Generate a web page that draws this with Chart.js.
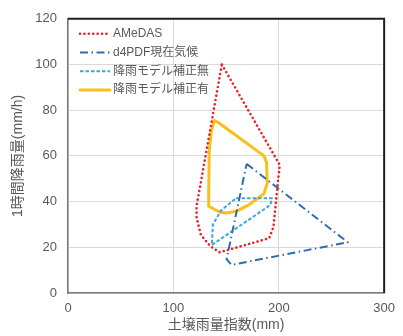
<!DOCTYPE html>
<html>
<head>
<meta charset="utf-8">
<script src="https://cdn.jsdelivr.net/npm/chart.js@4.4.0/dist/chart.umd.min.js"></script>
<style>
  html, body { margin: 0; padding: 0; background: #ffffff; }
  canvas { display: block; }
</style>
</head>
<body>
<canvas id="chart" width="403" height="336"></canvas>
<script>
// Series labels
const seriesNames = ['AMeDAS', 'd4PDF現在気候', '降雨モデル補正無', '降雨モデル補正有'];

// Outline vertices (soil rain index [mm], hourly rainfall [mm/h]); each ring closes on its first point
const amedasX = [146, 201, 199.5, 195, 191, 144, 135, 126, 122, 122, 146];
const amedasY = [100, 56, 50, 29, 24, 17.8, 20.5, 25.5, 33, 38, 100];

const d4pdfX = [169.5, 265.5, 155, 150.5, 151.5, 169.5];
const d4pdfY = [56.5, 22.2, 12.3, 14.8, 17, 56.5];

const uncorrectedX = [159.5, 193.5, 192, 136.5, 137.5, 145, 159.5];
const uncorrectedY = [41.5, 41.5, 38.5, 21, 30, 36, 41.5];

const correctedX = [139, 143, 186, 188.5, 189, 186, 172, 160, 150, 146, 140, 133.5, 133.5, 134, 136, 139];
const correctedY = [75.5, 74.5, 60, 57, 48, 43.5, 38.7, 35.8, 35, 35.2, 36.3, 38, 42, 62, 71, 75.5];

// Axis ticks
const xTicks = [0, 100, 200, 300];
const yTicks = [0, 20, 40, 60, 80, 100, 120];

const toPoints = (xs, ys) => xs.map((x, i) => ({ x: x, y: ys[i] }));

const FONT_LATIN = '"Liberation Sans", Arial, "Noto Sans CJK JP", sans-serif';
const TEXT_COLOR = '#595959';

// Frame (top/right edges) and an in-plot legend
const frameAndLegend = {
  id: 'frameAndLegend',
  afterDatasetsDraw(chart) {
    const { ctx, chartArea: a } = chart;
    ctx.save();
    ctx.strokeStyle = '#1f1f1f';
    ctx.lineWidth = 2;
    ctx.setLineDash([]);
    ctx.beginPath();
    ctx.moveTo(a.left, a.top);
    ctx.lineTo(a.right, a.top);
    ctx.lineTo(a.right, a.bottom);
    ctx.stroke();

    const x0 = a.left + 12, x1 = a.left + 42;
    chart.data.datasets.forEach((ds, i) => {
      const y = a.top + 15 + i * 18.7;
      ctx.strokeStyle = ds.borderColor;
      ctx.lineWidth = ds.borderWidth;
      ctx.lineCap = ds.borderCapStyle || 'butt';
      ctx.setLineDash(ds.borderDash || []);
      ctx.beginPath();
      ctx.moveTo(x0, y);
      ctx.lineTo(x1, y);
      ctx.stroke();
      ctx.setLineDash([]);
      ctx.fillStyle = TEXT_COLOR;
      ctx.font = '12px ' + FONT_LATIN;
      ctx.textBaseline = 'middle';
      ctx.textAlign = 'left';
      ctx.fillText(ds.label, x1 + 3, y);
    });
    ctx.restore();
  }
};

const commonLine = { showLine: true, pointRadius: 0, pointHoverRadius: 0, tension: 0, fill: false, borderJoinStyle: 'round' };

new Chart(document.getElementById('chart'), {
  type: 'scatter',
  data: {
    datasets: [
      Object.assign({}, commonLine, {
        label: seriesNames[0],
        data: toPoints(amedasX, amedasY),
        borderColor: '#e3262e',
        borderWidth: 2.6,
        borderDash: [0.1, 4.3],
        borderCapStyle: 'round'
      }),
      Object.assign({}, commonLine, {
        label: seriesNames[1],
        data: toPoints(d4pdfX, d4pdfY),
        borderColor: '#2e6db3',
        borderWidth: 2,
        borderDash: [8, 3.5, 1.5, 3.5],
        borderCapStyle: 'butt'
      }),
      Object.assign({}, commonLine, {
        label: seriesNames[2],
        data: toPoints(uncorrectedX, uncorrectedY),
        borderColor: '#3aa6d8',
        borderWidth: 2,
        borderDash: [3.5, 2],
        borderCapStyle: 'butt'
      }),
      Object.assign({}, commonLine, {
        label: seriesNames[3],
        data: toPoints(correctedX, correctedY),
        borderColor: '#fbbf1a',
        borderWidth: 3,
        borderDash: [],
        borderCapStyle: 'round'
      })
    ]
  },
  options: {
    responsive: false,
    animation: false,
    events: [],
    layout: { padding: { left: 0, right: 12, top: 14, bottom: 0 } },
    plugins: {
      legend: { display: false },
      tooltip: { enabled: false },
      title: { display: false }
    },
    scales: {
      x: {
        type: 'linear',
        min: 0,
        max: 300,
        afterFit(scale) { scale.height = 43; },
        afterBuildTicks(scale) { scale.ticks = xTicks.map(v => ({ value: v })); },
        grid: { color: '#d9d9d9', lineWidth: 1, drawTicks: false },
        border: { color: '#7a7a7a', width: 1.5 },
        ticks: { color: TEXT_COLOR, font: { family: FONT_LATIN, size: 13 }, padding: 8, maxRotation: 0 },
        title: {
          display: true,
          text: '土壌雨量指数(mm)',
          color: TEXT_COLOR,
          font: { family: FONT_LATIN, size: 14 },
          padding: { top: 0, bottom: 2 }
        }
      },
      y: {
        type: 'linear',
        min: 0,
        max: 120,
        afterFit(scale) { scale.width = 68; },
        afterBuildTicks(scale) { scale.ticks = yTicks.map(v => ({ value: v })); },
        grid: { color: '#d9d9d9', lineWidth: 1, drawTicks: false },
        border: { color: '#7a7a7a', width: 1.5 },
        ticks: { color: TEXT_COLOR, font: { family: FONT_LATIN, size: 13 }, padding: 11 },
        title: {
          display: true,
          text: '1時間降雨量(mm/h)',
          color: TEXT_COLOR,
          font: { family: FONT_LATIN, size: 14 },
          padding: { top: 10, bottom: 0 }
        }
      }
    }
  },
  plugins: [frameAndLegend]
});
</script>
</body>
</html>
